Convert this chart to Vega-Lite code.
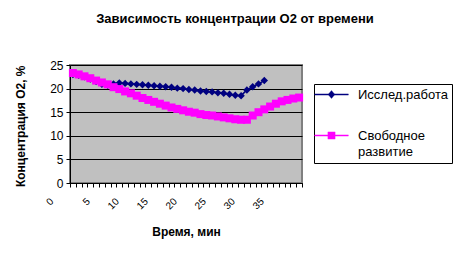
{
  "$schema": "https://vega.github.io/schema/vega-lite/v6.json",
  "width": 232,
  "height": 118,
  "autosize": {"type": "none"},
  "padding": {"left": 70, "top": 65, "right": 160, "bottom": 79},
  "background": "white",
  "title": {
    "text": "Зависимость концентрации О2 от времени",
    "font": "Liberation Sans",
    "fontSize": 13,
    "fontWeight": "bold",
    "color": "black",
    "anchor": "middle",
    "frame": "group",
    "dx": 49,
    "offset": 33
  },
  "config": {
    "view": {"fill": "#C0C0C0", "stroke": "#808080", "strokeWidth": 2},
    "font": "Liberation Sans"
  },
  "data": {
    "values": [
      {"s": "Исслед.работа", "t": 3, "v": 23.0},
      {"s": "Исслед.работа", "t": 4, "v": 22.8},
      {"s": "Исслед.работа", "t": 5, "v": 22.5},
      {"s": "Исслед.работа", "t": 6, "v": 22.0},
      {"s": "Исслед.работа", "t": 7, "v": 21.5},
      {"s": "Исслед.работа", "t": 8, "v": 20.9},
      {"s": "Исслед.работа", "t": 9, "v": 20.7},
      {"s": "Исслед.работа", "t": 10, "v": 21.0},
      {"s": "Исслед.работа", "t": 11, "v": 21.2},
      {"s": "Исслед.работа", "t": 12, "v": 21.1},
      {"s": "Исслед.работа", "t": 13, "v": 21.0},
      {"s": "Исслед.работа", "t": 14, "v": 20.9},
      {"s": "Исслед.работа", "t": 15, "v": 20.8},
      {"s": "Исслед.работа", "t": 16, "v": 20.7},
      {"s": "Исслед.работа", "t": 17, "v": 20.6},
      {"s": "Исслед.работа", "t": 18, "v": 20.5},
      {"s": "Исслед.работа", "t": 19, "v": 20.4},
      {"s": "Исслед.работа", "t": 20, "v": 20.3},
      {"s": "Исслед.работа", "t": 21, "v": 20.1},
      {"s": "Исслед.работа", "t": 22, "v": 20.0},
      {"s": "Исслед.работа", "t": 23, "v": 19.8},
      {"s": "Исслед.работа", "t": 24, "v": 19.7},
      {"s": "Исслед.работа", "t": 25, "v": 19.5},
      {"s": "Исслед.работа", "t": 26, "v": 19.4},
      {"s": "Исслед.работа", "t": 27, "v": 19.3},
      {"s": "Исслед.работа", "t": 28, "v": 19.1},
      {"s": "Исслед.работа", "t": 29, "v": 19.0},
      {"s": "Исслед.работа", "t": 30, "v": 18.8},
      {"s": "Исслед.работа", "t": 31, "v": 18.6},
      {"s": "Исслед.работа", "t": 32, "v": 18.5},
      {"s": "Исслед.работа", "t": 33, "v": 19.7},
      {"s": "Исслед.работа", "t": 34, "v": 20.4},
      {"s": "Исслед.работа", "t": 35, "v": 21.0},
      {"s": "Исслед.работа", "t": 36, "v": 21.7},
      {"s": "Свободное развитие", "t": 3, "v": 23.3},
      {"s": "Свободное развитие", "t": 4, "v": 23.0},
      {"s": "Свободное развитие", "t": 5, "v": 22.6},
      {"s": "Свободное развитие", "t": 6, "v": 22.2},
      {"s": "Свободное развитие", "t": 7, "v": 21.7},
      {"s": "Свободное развитие", "t": 8, "v": 21.3},
      {"s": "Свободное развитие", "t": 9, "v": 20.9},
      {"s": "Свободное развитие", "t": 10, "v": 20.3},
      {"s": "Свободное развитие", "t": 11, "v": 19.9},
      {"s": "Свободное развитие", "t": 12, "v": 19.4},
      {"s": "Свободное развитие", "t": 13, "v": 19.0},
      {"s": "Свободное развитие", "t": 14, "v": 18.5},
      {"s": "Свободное развитие", "t": 15, "v": 18.0},
      {"s": "Свободное развитие", "t": 16, "v": 17.6},
      {"s": "Свободное развитие", "t": 17, "v": 17.2},
      {"s": "Свободное развитие", "t": 18, "v": 16.8},
      {"s": "Свободное развитие", "t": 19, "v": 16.4},
      {"s": "Свободное развитие", "t": 20, "v": 16.0},
      {"s": "Свободное развитие", "t": 21, "v": 15.7},
      {"s": "Свободное развитие", "t": 22, "v": 15.4},
      {"s": "Свободное развитие", "t": 23, "v": 15.1},
      {"s": "Свободное развитие", "t": 24, "v": 14.9},
      {"s": "Свободное развитие", "t": 25, "v": 14.6},
      {"s": "Свободное развитие", "t": 26, "v": 14.4},
      {"s": "Свободное развитие", "t": 27, "v": 14.3},
      {"s": "Свободное развитие", "t": 28, "v": 14.1},
      {"s": "Свободное развитие", "t": 29, "v": 13.9},
      {"s": "Свободное развитие", "t": 30, "v": 13.7},
      {"s": "Свободное развитие", "t": 31, "v": 13.5},
      {"s": "Свободное развитие", "t": 32, "v": 13.4},
      {"s": "Свободное развитие", "t": 33, "v": 13.4},
      {"s": "Свободное развитие", "t": 34, "v": 14.3},
      {"s": "Свободное развитие", "t": 35, "v": 15.0},
      {"s": "Свободное развитие", "t": 36, "v": 15.6},
      {"s": "Свободное развитие", "t": 37, "v": 16.2},
      {"s": "Свободное развитие", "t": 38, "v": 16.8},
      {"s": "Свободное развитие", "t": 39, "v": 17.3},
      {"s": "Свободное развитие", "t": 40, "v": 17.6},
      {"s": "Свободное развитие", "t": 41, "v": 17.9},
      {"s": "Свободное развитие", "t": 42, "v": 18.1}
    ]
  },
  "encoding": {
    "x": {
      "field": "t",
      "type": "quantitative",
      "scale": {"domain": [2.5, 42.5], "nice": false, "zero": false, "clamp": true},
      "axis": {
        "title": "Время, мин",
        "titleFont": "Liberation Sans",
        "titleFontSize": 12,
        "titleFontWeight": "bold",
        "titleColor": "black",
        "titlePadding": 16,
        "values": [0, 5, 10, 15, 20, 25, 30, 35, 2.5, 3.5, 4.5, 5.5, 6.5, 7.5, 8.5, 9.5, 10.5, 11.5, 12.5, 13.5, 14.5, 15.5, 16.5, 17.5, 18.5, 19.5, 20.5, 21.5, 22.5, 23.5, 24.5, 25.5, 26.5, 27.5, 28.5, 29.5, 30.5, 31.5, 32.5, 33.5, 34.5, 35.5, 36.5, 37.5, 38.5, 39.5, 40.5, 41.5, 42.5],
        "labelExpr": "datum.value % 1 === 0 ? datum.label : ''",
        "labelOverlap": false,
        "labelAngle": -45,
        "labelFontSize": 10,
        "labelColor": "black",
        "labelPadding": 9,
        "labelOffset": {"condition": {"test": "datum.value === 0", "value": -22}, "value": 0},
        "tickColor": {"condition": {"test": "datum.value % 1 === 0", "value": "transparent"}, "value": "black"},
        "tickSize": 4,
        "domainColor": "black",
        "grid": false
      }
    },
    "y": {
      "field": "v",
      "type": "quantitative",
      "scale": {"domain": [0, 25], "nice": false},
      "axis": {
        "title": "Концентрация О2, %",
        "titleFont": "Liberation Sans",
        "titleFontSize": 12,
        "titleFontWeight": "bold",
        "titleColor": "black",
        "titleAnchor": "end",
        "titlePadding": 22,
        "values": [0, 5, 10, 15, 20, 25],
        "labelFontSize": 12,
        "labelColor": "black",
        "labelPadding": 3,
        "tickColor": "black",
        "tickSize": 4,
        "domainColor": "black",
        "grid": true,
        "gridColor": "black",
        "gridWidth": 1
      }
    },
    "color": {
      "field": "s",
      "type": "nominal",
      "scale": {"domain": ["Исслед.работа", "Свободное развитие"], "range": ["#000080", "#FF00FF"]},
      "legend": {
        "title": null,
        "orient": "none",
        "legendX": 244,
        "legendY": 19,
        "padding": 4,
        "strokeColor": "black",
        "fillColor": "white",
        "symbolSize": 144,
        "symbolOffset": 7,
        "labelOffset": 20,
        "labelFont": "Liberation Sans",
        "labelFontSize": 13,
        "labelColor": "black",
        "labelLimit": 200,
        "rowPadding": 27,
        "labelExpr": "datum.label === 'Свободное развитие' ? ['Свободное', 'развитие'] : datum.label",
        "encoding": {
          "symbols": {
            "shape": {
              "condition": {"test": "datum.value === 'Исслед.работа'", "value": "M-2.8,-0.1H2.8V0.1H-2.8ZM0,-0.65L0.55,0L0,0.65L-0.55,0Z"},
              "value": "M-2.8,-0.1H2.8V0.1H-2.8ZM-0.6,-0.6H0.6V0.6H-0.6Z"
            },
            "fill": {
              "condition": {"test": "datum.value === 'Исслед.работа'", "value": "#000080"},
              "value": "#FF00FF"
            },
            "stroke": {
              "condition": {"test": "datum.value === 'Исслед.работа'", "value": "#000080"},
              "value": "#FF00FF"
            },
            "strokeWidth": {"value": 0.4},
            "opacity": {"value": 1}
          },
          "labels": {
            "lineHeight": {"value": 16}
          }
        }
      }
    }
  },
  "layer": [
    {
      "mark": {"type": "line", "strokeWidth": 1.6}
    },
    {
      "transform": [{"filter": "datum.s === 'Исслед.работа'"}],
      "mark": {"type": "point", "filled": true, "opacity": 1, "shape": "diamond", "size": 55}
    },
    {
      "transform": [{"filter": "datum.s === 'Свободное развитие'"}],
      "mark": {"type": "point", "filled": true, "opacity": 1, "shape": "square", "size": 64}
    }
  ]
}
